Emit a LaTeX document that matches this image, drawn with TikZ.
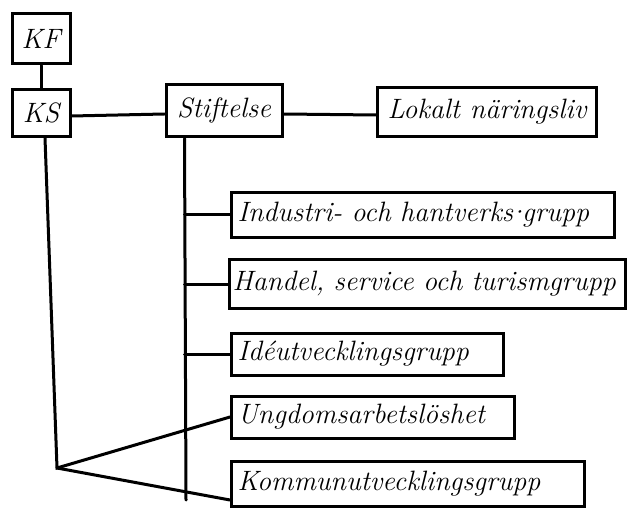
\documentclass[tikz,border=0pt]{standalone}
\usepackage{fontspec}
\usetikzlibrary{positioning}

\tikzset{
  box/.style={draw, line width=3pt, inner sep=0pt, font=\fontsize{28}{32}\selectfont\itshape},
  grp/.style={box, anchor=west, minimum height=45, inner xsep=6pt, text width=#1, align=left},
  wire/.style={line width=3pt, line cap=round},
}

\begin{document}
\begin{tikzpicture}[x=1pt,y=1pt,yscale=-1,xscale=1]
	\useasboundingbox (0,0) rectangle (628,510);
	
	%top row
	\node[box, minimum width=58, minimum height=50] (kf) at (41,39) {KF};
	\node[box, minimum width=58, minimum height=47] (ks) at (41,113) {KS};
	\node[box, minimum width=116, minimum height=52] (stift) at (224,111) {Stiftelse};
	\node[box, minimum width=219, minimum height=49] (lokalt) at (487,112) {Lokalt näringsliv};
	
	%groups
	\node[grp=371] (ind) at (230,215) {Industri- och hantverks\kern-6pt·\kern-6pt grupp};
	\node[grp=390, inner xsep=3pt, minimum height=48] (han) at (228,284) {Handel, service och turismgrupp};
	\node[grp=260, minimum height=42] (ide) at (230,354) {Idéutvecklingsgrupp};
	\node[grp=271, minimum height=42] (ung) at (230,417) {Ungdomsarbetslöshet};
	\node[grp=341] (kom) at (230,484) {Kommunutvecklingsgrupp};
	
	%connectors
	\draw[wire] (kf) -- (ks);
	\draw[wire] ([yshift=3]ks.east) -- ([yshift=3]stift.west);
	\draw[wire] ([yshift=3]stift.east) -- ([yshift=3]lokalt.west);
	
	\coordinate (spine) at ([xshift=20]stift.south west);
	\coordinate (sbot) at (186,500);
	\draw[wire] (spine) -- (sbot);
	\foreach \g in {ind,han,ide}
		\draw[wire] (spine |- \g.west) -- (\g.west);
	
	\coordinate (fan) at (57,468);
	\draw[wire] ([xshift=4]ks.south) -- (fan) -- (ung.west);
	\draw[wire] (fan) -- ([yshift=-8]kom.south west);
	
\end{tikzpicture}
\end{document}
